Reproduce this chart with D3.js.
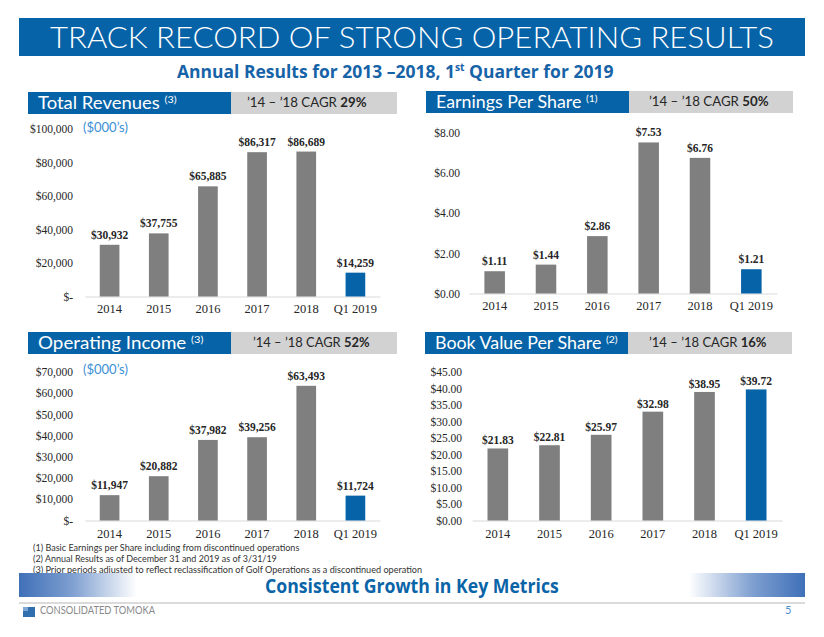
<!DOCTYPE html>
<html><head><meta charset="utf-8">
<script src="https://cdn.jsdelivr.net/npm/d3@7/dist/d3.min.js"></script>
<style>
html,body{margin:0;padding:0;background:#fff;}
svg{display:block;}
</style></head>
<body>
<svg id="chart" width="824" height="637"></svg>
<script>
// ---------- DATA ----------
const categories = ["2014", "2015", "2016", "2017", "2018", "Q1 2019"];
const revenues   = [30932, 37755, 65885, 86317, 86689, 14259];
const eps        = [1.11, 1.44, 2.86, 7.53, 6.76, 1.21];
const opIncome   = [11947, 20882, 37982, 39256, 63493, 11724];
const bookValue  = [21.83, 22.81, 25.97, 32.98, 38.95, 39.72];
const revTicks   = [0, 20000, 40000, 60000, 80000, 100000];
const epsTicks   = [0, 2, 4, 6, 8];
const opTicks    = [0, 10000, 20000, 30000, 40000, 50000, 60000, 70000];
const bvTicks    = [0, 5, 10, 15, 20, 25, 30, 35, 40, 45];
const panelTitles = ["Total Revenues", "Earnings Per Share", "Operating Income", "Book Value Per Share"];
const panelNotes  = ["(3)", "(1)", "(3)", "(2)"];
const cagrValues  = ["29%", "50%", "52%", "16%"];
const footnotes = [
  "(1) Basic Earnings per Share including from discontinued operations",
  "(2) Annual Results as of December 31 and 2019 as of 3/31/19",
  "(3) Prior periods adjusted to reflect reclassification of Golf Operations as a discontinued operation"
];

// ---------- STYLE ----------
const BLUE = "#0763a7";
const GREY_BAR = "#7f7f7f";
const SANS = "Lato, 'Open Sans', sans-serif";
const SERIF = "'Liberation Serif', 'Times New Roman', serif";

const svg = d3.select("#chart");

// helper: place text and squeeze/stretch it to a target width
function fitText(g, x, y, w, anchor) {
  const t = g.select("text");
  const bw = t.node().getBBox().width;
  const s = w / bw;
  let tx = x;
  if (anchor === "middle") tx = x; 
  g.attr("transform", `translate(${tx},${y}) scale(${s},1)`);
}

// ---------- TITLE ----------
svg.append("rect").attr("x", 19).attr("y", 18).attr("width", 786).attr("height", 38).attr("fill", BLUE);
{
  const g = svg.append("g");
  g.append("text").attr("x", 0).attr("y", 0).attr("fill", "#fff")
    .attr("font-family", SANS).attr("font-size", 29).attr("font-weight", 300)
    .text("TRACK RECORD OF STRONG OPERATING RESULTS");
  fitText(g, 50, 48, 724);
}
{
  const g = svg.append("g");
  const t = g.append("text").attr("x", 0).attr("y", 0).attr("fill", "#1763a8")
    .attr("font-family", "'Open Sans', sans-serif").attr("font-size", 17).attr("font-weight", 700);
  t.append("tspan").text("Annual Results for 2013 \u20132018, 1");
  t.append("tspan").attr("font-size", 10).attr("dy", -7).text("st");
  t.append("tspan").attr("dy", 7).text(" Quarter for 2019");
  fitText(g, 177, 78, 437);
}

// ---------- PANELS ----------
const panels = [
  { values: revenues, ticks: revTicks, tickFmt: v => v === 0 ? "$-" : "$" + d3.format(",")(v),
    valFmt: v => "$" + d3.format(",")(v), max: 100000,
    hx: 28, hy: 92, hw1: 203, hw2: 166, hh: 22, titleW: 139, cagrX: 247, cagrW: 120,
    x0: 85, x1: 380, y0: 296.5, y1: 129.3, tickPad: 12, xPad: 8, lblGap: 6, unit: true, unitY: 132 },
  { values: eps, ticks: epsTicks, tickFmt: v => "$" + d3.format(".2f")(v),
    valFmt: v => "$" + d3.format(".2f")(v), max: 8,
    hx: 426, hy: 91, hw1: 203, hw2: 164, hh: 22, titleW: 162, cagrX: 649, cagrW: 120,
    x0: 469, x1: 777, y0: 293.5, y1: 133, tickPad: 9, xPad: 8, lblGap: 6, unit: false },
  { values: opIncome, ticks: opTicks, tickFmt: v => v === 0 ? "$-" : "$" + d3.format(",")(v),
    valFmt: v => "$" + d3.format(",")(v), max: 70000,
    hx: 28, hy: 332, hw1: 203, hw2: 166, hh: 22, titleW: 166, cagrX: 253, cagrW: 117,
    x0: 85, x1: 380, y0: 520.5, y1: 372, tickPad: 12, xPad: 9, lblGap: 6, unit: true, unitY: 374 },
  { values: bookValue, ticks: bvTicks, tickFmt: v => "$" + d3.format(".2f")(v),
    valFmt: v => "$" + d3.format(".2f")(v), max: 45,
    hx: 425, hy: 332, hw1: 203, hw2: 164, hh: 22, titleW: 183, cagrX: 649, cagrW: 118,
    x0: 472, x1: 782, y0: 520.5, y1: 372, tickPad: 10, xPad: 9, lblGap: 4, unit: false }
];

panels.forEach((p, i) => {
  // header
  svg.append("rect").attr("x", p.hx).attr("y", p.hy).attr("width", p.hw1).attr("height", p.hh).attr("fill", BLUE);
  svg.append("rect").attr("x", p.hx + p.hw1).attr("y", p.hy).attr("width", p.hw2).attr("height", p.hh).attr("fill", "#d2d2d2");
  const tg = svg.append("g");
  const tt = tg.append("text").attr("fill", "#fff").attr("font-family", SANS).attr("font-size", 17);
  tt.append("tspan").text(panelTitles[i] + " ");
  tt.append("tspan").attr("font-size", 10).attr("dy", -6).text(panelNotes[i]);
  fitText(tg, p.hx + 10, p.hy + 17, p.titleW);

  const cg = svg.append("g");
  const ct = cg.append("text").attr("fill", "#262626").attr("font-family", SANS).attr("font-size", 13);
  ct.append("tspan").text("\u201914 \u2013 \u201918 CAGR ");
  ct.append("tspan").attr("font-weight", 700).text(cagrValues[i]);
  fitText(cg, p.cagrX, p.hy + 15, p.cagrW);

  // scales
  const x = d3.scaleBand().domain(categories).range([p.x0, p.x1]).paddingInner(0.6).paddingOuter(0.3);
  const y = d3.scaleLinear().domain([0, p.max]).range([p.y0, p.y1]);

  const g = svg.append("g");

  // y axis
  const ya = g.append("g").attr("transform", `translate(${p.x0},0)`)
    .call(d3.axisLeft(y).tickValues(p.ticks).tickSize(0).tickPadding(p.tickPad).tickFormat(p.tickFmt));
  ya.select(".domain").remove();
  ya.selectAll("text").attr("font-family", SERIF).attr("font-size", 11.5).attr("fill", "#262626");

  // x axis
  const xa = g.append("g").attr("transform", `translate(0,${p.y0})`)
    .call(d3.axisBottom(x).tickSize(0).tickPadding(p.xPad).tickSizeOuter(0));
  xa.select(".domain").attr("stroke", "#d9d9d9").attr("stroke-width", 1.2);
  xa.selectAll("text").attr("font-family", SERIF).attr("font-size", 12.5).attr("fill", "#262626");

  // bars
  g.selectAll("rect.bar").data(p.values).enter().append("rect")
    .attr("class", "bar")
    .attr("x", (d, j) => x(categories[j]))
    .attr("width", x.bandwidth())
    .attr("y", d => y(d))
    .attr("height", d => y(0) - y(d))
    .attr("fill", (d, j) => categories[j].startsWith("Q1") ? BLUE : GREY_BAR);

  // value labels
  g.selectAll("text.val").data(p.values).enter().append("text")
    .attr("class", "val")
    .attr("x", (d, j) => x(categories[j]) + x.bandwidth() / 2)
    .attr("y", d => y(d) - p.lblGap)
    .attr("text-anchor", "middle")
    .attr("font-family", SERIF).attr("font-weight", 700).attr("font-size", 11.5)
    .attr("fill", "#262626")
    .text(d => p.valFmt(d));

  if (p.unit) {
    svg.append("text").attr("x", 83).attr("y", p.unitY).attr("fill", "#3b8fd4")
      .attr("font-family", SANS).attr("font-size", 13).text("($000\u2019s)");
  }
});

// ---------- FOOTNOTES ----------
const fnY = [551, 562, 572.5];
const fnW = [267, 244, 390];
footnotes.forEach((f, i) => {
  const g = svg.append("g");
  g.append("text").attr("fill", "#333").attr("font-family", SANS).attr("font-size", 9.5).text(f);
  fitText(g, 33, fnY[i], fnW[i]);
});

// ---------- FOOTER BAND ----------
const defs = svg.append("defs");
const gl = defs.append("linearGradient").attr("id", "gl").attr("x1", 0).attr("x2", 1).attr("y1", 0).attr("y2", 0);
gl.append("stop").attr("offset", 0).attr("stop-color", "#3f70b8");
gl.append("stop").attr("offset", 0.45).attr("stop-color", "#7e9fd0");
gl.append("stop").attr("offset", 1).attr("stop-color", "#ffffff");
const gr = defs.append("linearGradient").attr("id", "gr").attr("x1", 1).attr("x2", 0).attr("y1", 0).attr("y2", 0);
gr.append("stop").attr("offset", 0).attr("stop-color", "#3f70b8");
gr.append("stop").attr("offset", 0.45).attr("stop-color", "#7e9fd0");
gr.append("stop").attr("offset", 1).attr("stop-color", "#ffffff");
svg.append("rect").attr("x", 19).attr("y", 573).attr("width", 118).attr("height", 24).attr("fill", "url(#gl)");
svg.append("rect").attr("x", 689).attr("y", 573).attr("width", 116).attr("height", 24).attr("fill", "url(#gr)");
{
  const g = svg.append("g");
  g.append("text").attr("fill", "#0a64a8").attr("font-family", "'Open Sans', sans-serif")
    .attr("font-weight", 700).attr("font-size", 20).text("Consistent Growth in Key Metrics");
  fitText(g, 265, 593, 294);
}
svg.append("line").attr("x1", 19).attr("x2", 805).attr("y1", 603).attr("y2", 603)
  .attr("stroke", "#cfcfcf").attr("stroke-width", 1.5);

// logo + company name
svg.append("rect").attr("x", 23).attr("y", 607).attr("width", 12).attr("height", 10).attr("fill", "#2f6fb0");
svg.append("rect").attr("x", 23).attr("y", 607).attr("width", 5).attr("height", 4).attr("fill", "#7fa7d6");
{
  const g = svg.append("g");
  g.append("text").attr("fill", "#8a8a8a").attr("font-family", SANS).attr("font-size", 10.5).text("CONSOLIDATED TOMOKA");
  fitText(g, 40, 614, 116);
}
svg.append("text").attr("x", 785).attr("y", 614).attr("fill", "#4a90d0")
  .attr("font-family", SANS).attr("font-size", 11).text("5");
</script>
</body></html>
